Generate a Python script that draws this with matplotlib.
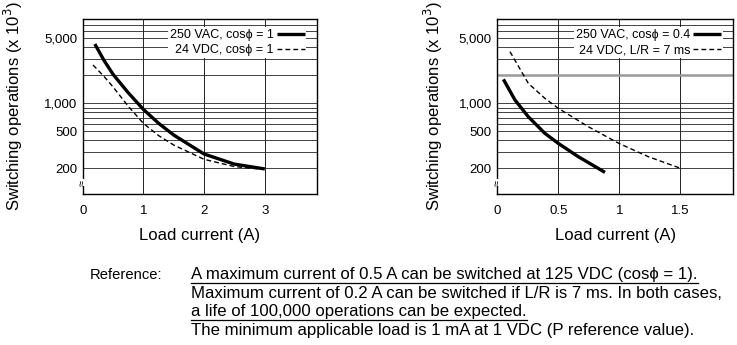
import matplotlib
matplotlib.use("Agg")
import matplotlib.pyplot as plt
from matplotlib.lines import Line2D
import numpy as np

plt.rcParams['font.family'] = ['Liberation Sans', 'DejaVu Sans']

# ---------------- data ----------------
left_ac_x = [0.2, 0.35, 0.5, 0.75, 1.0, 1.25, 1.5, 2.0, 2.5, 3.0]
left_ac_y = [4340, 2900, 2050, 1300, 860, 610, 456, 285, 222, 197]
left_dc_x = [0.17, 0.35, 0.5, 0.75, 1.0, 1.25, 1.5, 2.0, 2.5, 2.9]
left_dc_y = [2580, 1950, 1500, 930, 609, 450, 356, 250, 209, 197]

right_ac_x = [0.05, 0.145, 0.254, 0.39, 0.5, 0.664, 0.883]
right_ac_y = [1811, 1085, 718, 476, 371, 267, 181]
right_dc_x = [0.104, 0.254, 0.39, 0.5, 0.746, 0.997, 1.238, 1.49]
right_dc_y = [3590, 1641, 1132, 884, 561, 371, 267, 203]

left_xticks = [0, 1, 2, 3]
left_xticklabels = ["0", "1", "2", "3"]
right_xticks = [0, 0.5, 1, 1.5]
right_xticklabels = ["0", "0.5", "1", "1.5"]
yticks = [200, 500, 1000, 5000]
yticklabels = ["200", "500", "1,000", "5,000"]
grid_y = [200, 300, 400, 500, 600, 700, 800, 900, 1000,
          2000, 3000, 4000, 5000, 6000, 7000]

left_labels = ["250 VAC, cos\u03d5 = 1", "24 VDC, cos\u03d5 = 1"]
right_labels = ["250 VAC, cos\u03d5 = 0.4", "24 VDC, L/R = 7 ms"]

note_head = "Reference:"
note_lines = [
    "A maximum current of 0.5 A can be switched at 125 VDC (cos\u03d5 = 1).",
    "Maximum current of 0.2 A can be switched if L/R is 7 ms. In both cases,",
    "a life of 100,000 operations can be expected.",
    "The minimum applicable load is 1 mA at 1 VDC (P reference value).",
]
underlined = [0, 2]

# ---------------- figure ----------------
W, H = 737, 345
fig = plt.figure(figsize=(W / 100, H / 100), dpi=100)

def px_axes(l, t, r, b):
    return fig.add_axes([l / W, 1 - b / H, (r - l) / W, (b - t) / H])

ax1 = px_axes(82.7, 19.3, 317.0, 194.0)
ax2 = px_axes(497.3, 19.3, 733.3, 194.0)

def style(ax, xlim, xticks, xticklabels, gridx, ylab_x):
    ax.set_yscale('log')
    ax.set_ylim(106, 8000)
    ax.set_xlim(*xlim)
    ax.set_xticks(xticks)
    ax.set_xticklabels(xticklabels)
    ax.set_yticks(yticks)
    ax.set_yticklabels(yticklabels)
    ax.yaxis.set_minor_locator(matplotlib.ticker.NullLocator())
    ax.tick_params(length=0, labelsize=9.5)
    ax.tick_params(axis='y', pad=4)
    ax.tick_params(axis='x', pad=8)
    for gy in grid_y:
        ax.axhline(gy, color='#222222', lw=0.6, zorder=1)
    for gx in gridx:
        ax.axvline(gx, color='#222222', lw=0.7, zorder=1)
    for s in ax.spines.values():
        s.set_linewidth(1.0)
        s.set_color('black')
    ax.set_xlabel("Load current (A)", fontsize=12, labelpad=8)
    ax.set_ylabel("Switching operations (x 10$^3$)", fontsize=12)
    ax.yaxis.set_label_coords(ylab_x, 0.5)
    # axis break mark
    ax.text(0, 140, "\u2248", transform=ax.get_yaxis_transform(), ha='center',
            va='center', fontsize=8, rotation=90,
            bbox=dict(facecolor='white', edgecolor='none', pad=0.2), zorder=5)

style(ax1, (0, 3.86), left_xticks, left_xticklabels, [1, 2, 3], -0.247)
style(ax2, (0, 1.935), right_xticks, right_xticklabels, [0.5, 1, 1.5], -0.222)
ax2.axhline(2000, color='#999999', lw=1.8, zorder=1)

ax1.plot(left_ac_x, left_ac_y, color='black', lw=2.4, zorder=3,
         solid_capstyle='butt', label=left_labels[0])
ax1.plot(left_dc_x, left_dc_y, color='black', lw=1.0, ls=(0, (3.5, 2.2)),
         zorder=3, label=left_labels[1])
ax2.plot(right_ac_x, right_ac_y, color='black', lw=2.4, zorder=3,
         solid_capstyle='butt', label=right_labels[0])
ax2.plot(right_dc_x, right_dc_y, color='black', lw=1.0, ls=(0, (3.5, 2.2)),
         zorder=3, label=right_labels[1])

for ax in (ax1, ax2):
    leg = ax.legend(loc='upper right', bbox_to_anchor=(0.955, 0.955),
                    markerfirst=False, fontsize=9, frameon=True,
                    fancybox=False, edgecolor='none', framealpha=1,
                    handlelength=2.2, handletextpad=0.25, borderpad=0.15,
                    labelspacing=0.25, borderaxespad=0)
    leg.get_frame().set_linewidth(0)
    leg.set_zorder(4)

# ---------------- note text ----------------
fs = 12.1
fig.text(90 / W, 1 - 279 / H, note_head, fontsize=10.6, ha='left',
         va='baseline')
baselines = [279, 297.5, 316, 334.5]
texts = []
for i, (line, yb) in enumerate(zip(note_lines, baselines)):
    t = fig.text(191 / W, 1 - yb / H, line, fontsize=fs, ha='left',
                 va='baseline')
    texts.append(t)

fig.canvas.draw()
r = fig.canvas.get_renderer()
for i in underlined:
    bb = texts[i].get_window_extent(r)
    y = 1 - (baselines[i] + 4) / H
    fig.add_artist(Line2D([bb.x0 / W, bb.x1 / W], [y, y], color='black',
                          lw=0.9, transform=fig.transFigure))

fig.savefig("out.png", dpi=100)
